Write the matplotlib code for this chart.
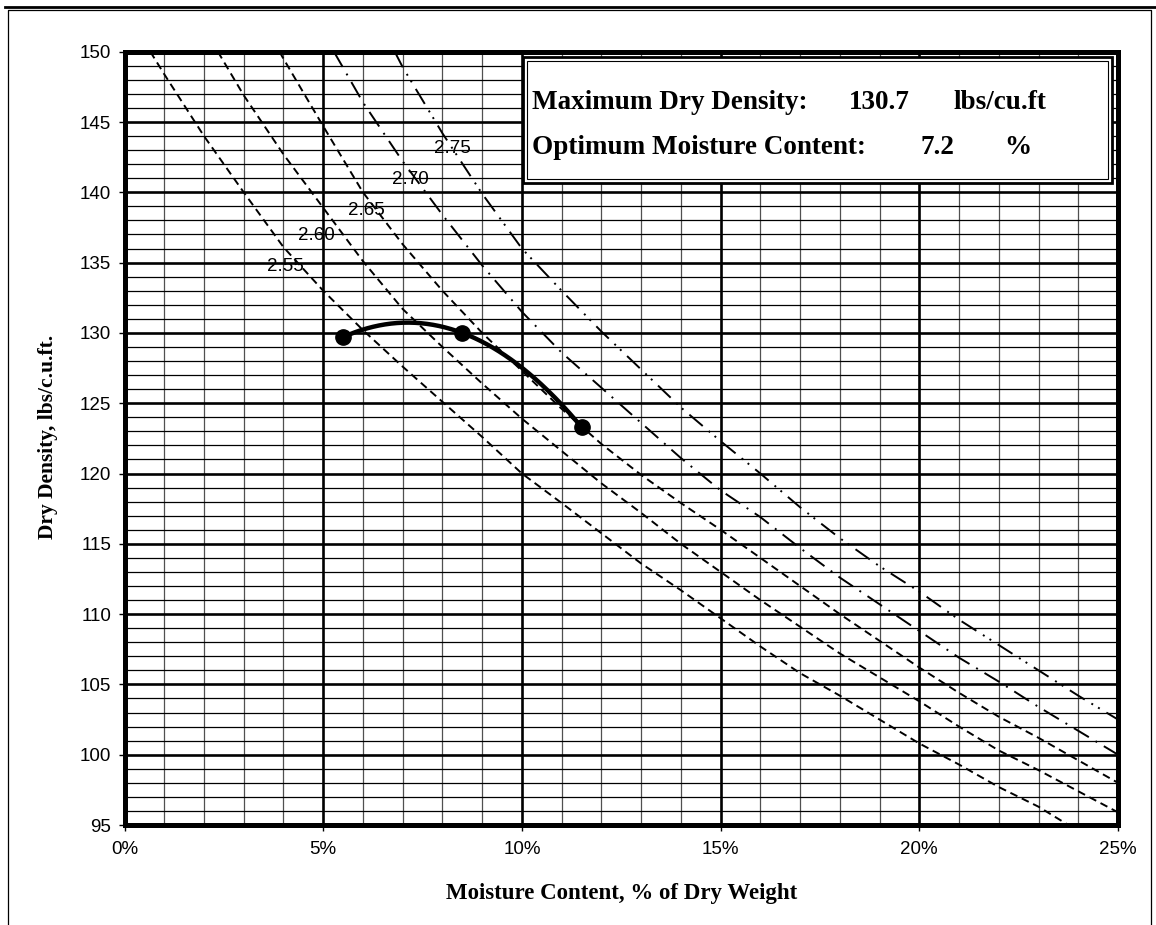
import numpy as np
import matplotlib
matplotlib.use("Agg")
import matplotlib.pyplot as plt
from matplotlib.ticker import MultipleLocator, FuncFormatter
from matplotlib.patches import Rectangle
from matplotlib.lines import Line2D

# essais Proctor
moisture = [5.5, 8.5, 11.5]
density = [129.7, 130.0, 123.3]
max_density = "130.7"
opt_moisture = "7.2"

# courbes de saturation (zero air voids) pour chaque Gs
gs_labels = ["2.55", "2.60", "2.65", "2.70", "2.75"]
w_255 = [0.65, 1, 2, 3, 4, 5, 6, 7, 8, 9, 10, 11, 12, 13, 14, 15, 16, 17, 18, 19, 20, 21, 22, 23, 23.75]
d_255 = [150, 148.4, 144.0, 140.0, 136.1, 133.0, 130.2, 127.6, 125.1, 122.6, 120.0, 117.9, 115.75,
         113.6, 111.7, 109.7, 107.7, 105.8, 104.2, 102.5, 100.8, 99.3, 97.7, 96.3, 95.0]
w_260 = [2.35, 3, 4, 5, 6, 7, 8, 9, 10, 11, 12, 13, 14, 15, 16, 17, 18, 19, 20, 21, 22, 23, 24, 25]
d_260 = [150, 146.9, 142.7, 138.9, 135.1, 131.7, 129.0, 126.4, 123.9, 121.6, 119.3, 117.2, 115.0,
         113.0, 111.0, 109.1, 107.2, 105.5, 103.8, 102.0, 100.3, 98.9, 97.4, 95.9]
w_265 = [3.9, 4, 5, 6, 7, 8, 9, 10, 11, 12, 13, 14, 15, 16, 17, 18, 19, 20, 21, 22, 23, 24, 25]
d_265 = [150, 149.5, 144.7, 140.0, 136.3, 133.0, 130.0, 127.3, 124.6, 122.1, 119.9, 117.9, 116.0,
         114.0, 112.0, 110.0, 108.1, 106.2, 104.4, 102.7, 101.2, 99.6, 98.0]
w_270 = [5.27, 6, 7, 8, 9, 10, 11, 12, 13, 14, 15, 16, 17, 18, 19, 20, 21, 22, 23, 24, 25]
d_270 = [150, 146.4, 142.2, 138.4, 134.8, 131.5, 128.6, 126.1, 123.6, 121.1, 118.8, 116.9, 114.7,
         112.6, 110.7, 108.8, 106.9, 105.2, 103.4, 101.7, 100.0]
w_275 = [6.8, 7, 8, 9, 10, 11, 12, 13, 14, 15, 16, 17, 18, 19, 20, 21, 22, 23, 24, 25]
d_275 = [150, 148.9, 144.2, 139.9, 136.0, 133.0, 130.1, 127.4, 124.7, 122.3, 120.0, 117.6, 115.4,
         113.4, 111.6, 109.6, 107.8, 106.0, 104.2, 102.5]
label_x = [4.05, 4.82, 6.08, 7.19, 8.24]
label_y = [134.7, 136.9, 138.7, 140.9, 143.1]

W, H = 1156, 925
fig = plt.figure(figsize=(W / 100, H / 100), dpi=100)
ax = fig.add_axes([124.5 / W, 1 - 825 / H, (1118 - 124.5) / W, (825 - 51.7) / H])

# courbes de saturation
styles = [(0, (4, 2.5)), (0, (4, 2.5)), (0, (4, 2.5)), (0, (9, 4, 1, 4)), (0, (9, 4, 1, 3, 1, 4))]
curves = [(w_255, d_255), (w_260, d_260), (w_265, d_265), (w_270, d_270), (w_275, d_275)]
for (w, d), ls in zip(curves, styles):
    ax.plot(w, d, color="black", lw=1.4, linestyle=ls, dash_capstyle="butt", zorder=3)
for lab, x, y in zip(gs_labels, label_x, label_y):
    ax.text(x, y, lab, fontsize=13.5, family="Liberation Sans", ha="center", va="center", zorder=4)

# courbe Proctor lissée (parabole passant par les 3 points)
coef = np.polyfit(moisture, density, 2)
ws = np.linspace(moisture[0], moisture[-1], 200)
ax.plot(ws, np.polyval(coef, ws), color="black", lw=3.2, zorder=5)
ax.plot(moisture, density, "o", color="black", ms=11, zorder=6)

ax.set_xlim(0, 25)
ax.set_ylim(95, 150)
ax.xaxis.set_major_locator(MultipleLocator(5))
ax.xaxis.set_minor_locator(MultipleLocator(1))
ax.yaxis.set_major_locator(MultipleLocator(5))
ax.yaxis.set_minor_locator(MultipleLocator(1))
ax.xaxis.set_major_formatter(FuncFormatter(lambda v, p: "%d%%" % v))

ax.set_axisbelow(True)
ax.grid(which="major", color="black", lw=1.9)
ax.grid(which="minor", axis="y", color="black", lw=0.9)
ax.grid(which="minor", axis="x", color="#505050", lw=0.9)

for s in ax.spines.values():
    s.set_linewidth(3.6)
ax.tick_params(which="major", direction="out", length=4.5, width=1, pad=5,
               labelsize=13.5, labelfontfamily="Liberation Sans")
ax.tick_params(which="minor", length=0)
ax.tick_params(axis="x", pad=7)

fig.text(622 / W, 1 - 893 / H, "Moisture Content, % of Dry Weight", family="Liberation Serif",
         weight="bold", fontsize=16.5, ha="center", va="center")
fig.text(48 / W, 1 - 437 / H, "Dry Density, lbs/c.u.ft.", family="Liberation Serif",
         weight="bold", fontsize=15.5, ha="center", va="center", rotation=90)

# cadre des résultats
bx0, by0, bx1, by1 = 523, 57, 1112, 183
fig.add_artist(Rectangle((bx0 / W, 1 - by1 / H), (bx1 - bx0) / W, (by1 - by0) / H,
                         transform=fig.transFigure, facecolor="white", edgecolor="black", lw=2.0, zorder=10))
fig.add_artist(Rectangle(((bx0 + 4) / W, 1 - (by1 - 4) / H), (bx1 - bx0 - 8) / W, (by1 - by0 - 8) / H,
                         transform=fig.transFigure, facecolor="none", edgecolor="black", lw=0.8, zorder=11))
tkw = dict(family="Liberation Serif", weight="bold", fontsize=19.5, va="baseline", zorder=12)
fig.text(532 / W, 1 - 109 / H, "Maximum Dry Density:", **tkw)
fig.text(849 / W, 1 - 109 / H, max_density, **tkw)
fig.text(953 / W, 1 - 109 / H, "lbs/cu.ft", **tkw)
fig.text(532 / W, 1 - 154 / H, "Optimum Moisture Content:", **tkw)
fig.text(920 / W, 1 - 154 / H, opt_moisture, **tkw)
fig.text(1004 / W, 1 - 154 / H, "%", **tkw)

# bordure de la page
fig.add_artist(Line2D([5 / W, 1], [1 - 6.5 / H] * 2, transform=fig.transFigure, color="black", lw=2))
fig.add_artist(Line2D([8 / W, 8 / W, 1151 / W, 1151 / W], [0, 1 - 10 / H, 1 - 10 / H, 0],
                      transform=fig.transFigure, color="black", lw=0.9))

fig.savefig("out.png", dpi=100)
